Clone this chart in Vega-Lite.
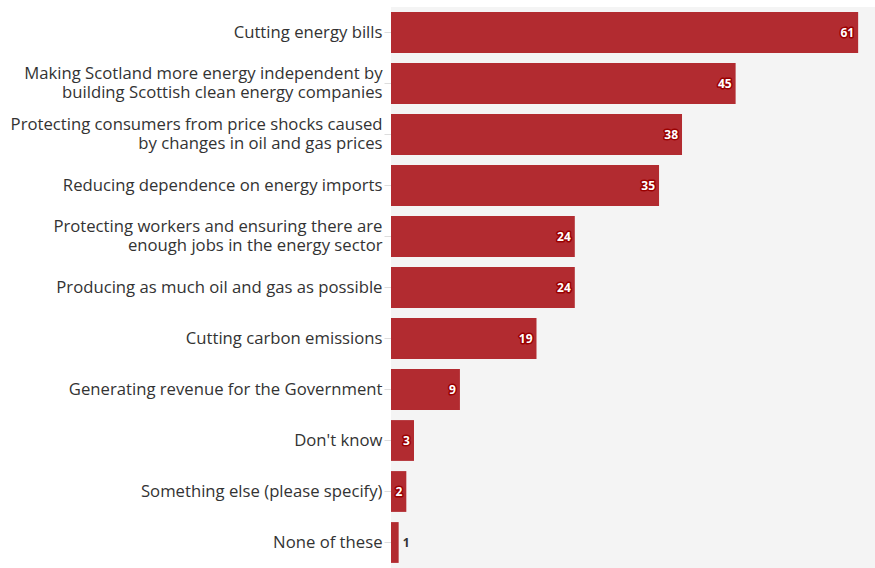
{
  "$schema": "https://vega.github.io/schema/vega-lite/v6.json",
  "width": 484,
  "height": 561,
  "autosize": {"type": "none"},
  "padding": {"left": 391, "top": 7, "right": 0, "bottom": 0},
  "background": "white",
  "config": {
    "view": {"fill": "#f4f4f4", "stroke": null},
    "font": "Open Sans"
  },
  "data": {
    "values": [
      {"option": "Cutting energy bills", "value": 61},
      {"option": "Making Scotland more energy independent by|building Scottish clean energy companies", "value": 45},
      {"option": "Protecting consumers from price shocks caused|by changes in oil and gas prices", "value": 38},
      {"option": "Reducing dependence on energy imports", "value": 35},
      {"option": "Protecting workers and ensuring there are|enough jobs in the energy sector", "value": 24},
      {"option": "Producing as much oil and gas as possible", "value": 24},
      {"option": "Cutting carbon emissions", "value": 19},
      {"option": "Generating revenue for the Government", "value": 9},
      {"option": "Don't know", "value": 3},
      {"option": "Something else (please specify)", "value": 2},
      {"option": "None of these", "value": 1}
    ]
  },
  "encoding": {
    "y": {
      "field": "option",
      "type": "nominal",
      "sort": null,
      "scale": {"paddingInner": 0.2, "paddingOuter": 0.1},
      "axis": {
        "title": null,
        "domain": false,
        "ticks": true,
        "tickSize": 7,
        "tickColor": "#dddddd",
        "labelPadding": 2,
        "labelFont": "Open Sans",
        "labelFontSize": 16.7,
        "labelColor": "#333333",
        "labelLimit": 400,
        "labelLineHeight": 19,
        "labelExpr": "split(datum.label, '|')",
        "labelOffset": {
          "condition": {"test": "indexof(datum.value, '|') >= 0", "value": -9.5},
          "value": 0
        }
      }
    },
    "x": {
      "field": "value",
      "type": "quantitative",
      "scale": {"domain": [0, 63.2], "nice": false},
      "axis": null
    }
  },
  "layer": [
    {"mark": {"type": "bar", "color": "#b22b30"}},
    {
      "transform": [{"filter": "datum.value > 1"}],
      "mark": {"type": "text", "align": "right", "dx": -4, "fontWeight": "bold", "fontSize": 12, "fill": "white", "stroke": "#9a0000", "strokeWidth": 3, "strokeJoin": "round"},
      "encoding": {"text": {"field": "value", "type": "quantitative"}}
    },
    {
      "transform": [{"filter": "datum.value > 1"}],
      "mark": {"type": "text", "align": "right", "dx": -4, "fontWeight": "bold", "fontSize": 12, "fill": "white"},
      "encoding": {"text": {"field": "value", "type": "quantitative"}}
    },
    {
      "transform": [{"filter": "datum.value <= 1"}],
      "mark": {"type": "text", "align": "left", "dx": 4, "fontWeight": "bold", "fontSize": 12, "fill": "#333333"},
      "encoding": {"text": {"field": "value", "type": "quantitative"}}
    }
  ]
}
